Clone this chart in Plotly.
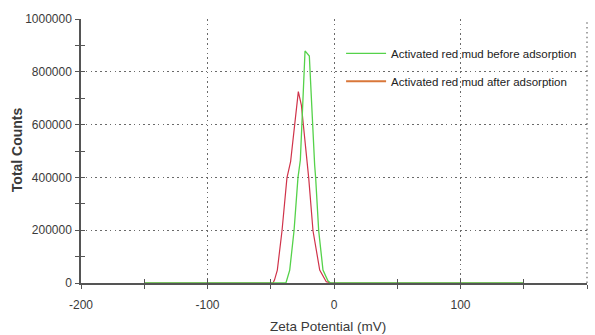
import plotly.graph_objects as go

# Zeta potential distributions (mV vs. total counts)
zeta_before = [-150, -38, -35, -31.6, -28.5, -26.6, -22.9, -19.5, -15.3, -14.5, -12.1, -8.7, -5, -3, 150]
counts_before = [0, 0, 49000, 198000, 398000, 466000, 879000, 860000, 447000, 398000, 198000, 49000, 10000, 0, 0]

zeta_after = [-150, -48.2, -47, -44.8, -41.1, -37.2, -34.3, -28.2, -25.8, -20.6, -20, -16.6, -11.3, -6.1, -2, 150]
counts_after = [0, 0, 12000, 49000, 198000, 398000, 460000, 725000, 674000, 447000, 398000, 198000, 49000, 5000, 0, 0]

name_before = "Activated red mud before adsorption"
name_after = "Activated red mud after adsorption"

x_ticks = [-200, -100, 0, 100, 200]
y_ticks = [0, 200000, 400000, 600000, 800000, 1000000]
x_tick_text = [str(v) for v in x_ticks]
y_tick_text = [str(v) for v in y_ticks]

GREEN = "#55d24a"
RED = "#d0334a"
ORANGE_SWATCH = "#d9773a"
AXIS = "#555555"
GRID = "#6a6a6a"
TEXT = "#3a3a3a"
FONT = "Liberation Sans, Arial, sans-serif"
GRID_DASH = "1.5px,3.3px"

fig = go.Figure()
fig.add_trace(go.Scatter(x=zeta_after, y=counts_after, mode="lines",
                         line=dict(color=RED, width=1.2), name=name_after,
                         showlegend=False, legendgroup="after"))
fig.add_trace(go.Scatter(x=zeta_before, y=counts_before, mode="lines",
                         line=dict(color=GREEN, width=1.3), name=name_before,
                         legendgroup="before", legendrank=1))
# legend swatch for the "after" series
fig.add_trace(go.Scatter(x=[None], y=[None], mode="lines",
                         line=dict(color=ORANGE_SWATCH, width=2), name=name_after,
                         legendgroup="after", legendrank=2))

common_axis = dict(showline=True, linecolor=AXIS, linewidth=1.5, mirror=False,
                   ticks="outside", ticklen=4, tickcolor=AXIS, tickwidth=1.2,
                   showgrid=True, gridcolor=GRID, gridwidth=1.2,
                   griddash=GRID_DASH, zeroline=False,
                   tickfont=dict(family=FONT, size=12, color=TEXT))

fig.update_layout(
    width=595, height=335,
    margin=dict(l=81, r=8, t=19, b=52),
    paper_bgcolor="white", plot_bgcolor="white",
    font=dict(family=FONT, color=TEXT),
    xaxis=dict(range=[-200, 200], tickvals=x_ticks, ticktext=x_tick_text,
               minor=dict(dtick=50, tick0=0, ticks="outside", ticklen=4,
                          tickcolor=AXIS, showgrid=False),
               ticklabelstandoff=6, **common_axis),
    yaxis=dict(range=[0, 1000000], tickvals=y_ticks, ticktext=y_tick_text,
               minor=dict(dtick=100000, tick0=0, ticks="outside", ticklen=4,
                          tickcolor=AXIS, showgrid=False),
               ticklabelstandoff=1, **common_axis),
    # overlay axes give the ticks their inward half so they cross the axis lines
    xaxis2=dict(overlaying="x", matches="x", anchor="y", side="bottom",
                tickvals=x_ticks, ticks="inside", ticklen=4, tickcolor=AXIS,
                tickwidth=1.2, showticklabels=False, showgrid=False, showline=False,
                zeroline=False,
                minor=dict(dtick=50, tick0=0, ticks="inside", ticklen=4,
                           tickcolor=AXIS, showgrid=False)),
    yaxis2=dict(overlaying="y", matches="y", anchor="x", side="left",
                tickvals=y_ticks, ticks="inside", ticklen=4, tickcolor=AXIS,
                tickwidth=1.2, showticklabels=False, showgrid=False, showline=False,
                zeroline=False,
                minor=dict(dtick=100000, tick0=0, ticks="inside", ticklen=4,
                           tickcolor=AXIS, showgrid=False)),
    legend=dict(x=0.514, y=0.925, xanchor="left", yanchor="top",
                bgcolor="rgba(0,0,0,0)", traceorder="grouped",
                tracegroupgap=9, itemwidth=40,
                font=dict(family=FONT, size=11.5, color="#222222")),
    showlegend=True,
    # dotted gridline along the right edge of the plot area
    shapes=[dict(type="line", xref="paper", yref="paper", x0=1, x1=1,
                 y0=0, y1=1, layer="below",
                 line=dict(color=GRID, width=1.2, dash=GRID_DASH))],
    annotations=[
        dict(text="<b>Total Counts</b>", xref="paper", yref="paper",
             x=-0.126, y=0.504, xanchor="center", yanchor="middle",
             textangle=-90, showarrow=False,
             font=dict(family=FONT, size=14, color=TEXT)),
        dict(text="Zeta Potential (mV)", xref="paper", yref="paper",
             x=0.488, y=-0.163, xanchor="center", yanchor="middle",
             showarrow=False,
             font=dict(family=FONT, size=13.5, color=TEXT)),
    ],
)

# an empty trace on the overlay axes so they are drawn
fig.add_trace(go.Scatter(x=[None], y=[None], xaxis="x2", yaxis="y2",
                         showlegend=False, hoverinfo="skip"))

fig.write_html("out.html")
